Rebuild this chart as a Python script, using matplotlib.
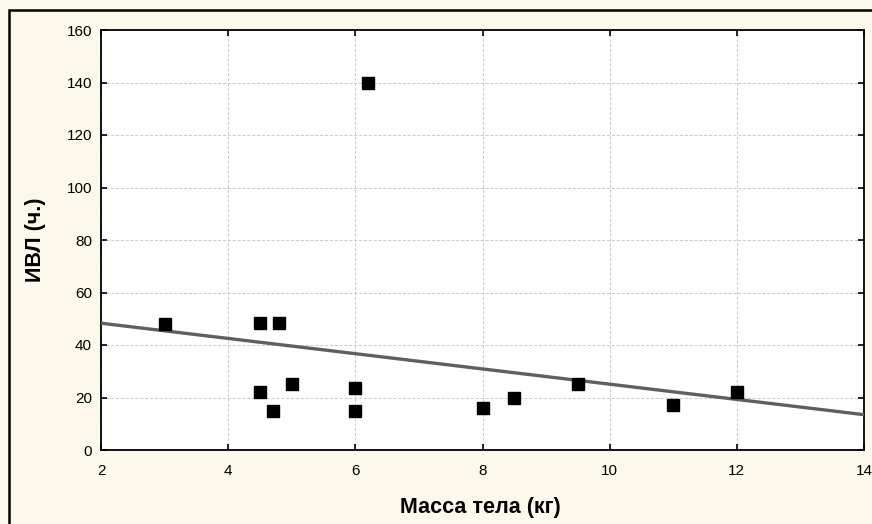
import numpy as np
import matplotlib
matplotlib.use('Agg')
from matplotlib import pyplot as plt
from matplotlib.patches import Rectangle

# масса тела (кг) и длительность ИВЛ (ч.)
mass = [3, 4.5, 4.8, 4.5, 4.7, 5.0, 6, 6, 6.2, 8, 8.5, 9.5, 11, 12]
ivl = [48, 48.5, 48.5, 22, 15, 25, 23.5, 15, 140, 16, 20, 25, 17, 22]
x_ticks = [2, 4, 6, 8, 10, 12, 14]
y_ticks = [0, 20, 40, 60, 80, 100, 120, 140, 160]

plt.rcParams['font.family'] = ['Liberation Sans', 'DejaVu Sans']

fig = plt.figure(figsize=(8.72, 5.24), dpi=100)
fig.patch.set_facecolor('#fdf8ec')
W, H = 872, 524
ax = fig.add_axes([101 / W, 1 - 450 / H, (864 - 101) / W, (450 - 30) / H])
ax.set_facecolor('white')

# линейная регрессия
k, b = np.polyfit(mass, ivl, 1)
xs = np.array([2, 14])
ax.plot(xs, k * xs + b, color='#5f5f5f', lw=2.4, zorder=3, solid_capstyle='butt')
ax.plot(mass, ivl, 's', color='black', markersize=9.2, zorder=4)

ax.set_xlim(2, 14)
ax.set_ylim(0, 160)
ax.set_xticks(x_ticks)
ax.set_yticks(y_ticks)
ax.grid(True, linestyle=(0, (3, 2)), color='#c8c8c8', lw=0.7)
ax.tick_params(direction='in', top=True, right=True, length=4, width=1.2,
               labelsize=11, colors='black')
ax.tick_params(axis='x', pad=10)
ax.tick_params(axis='y', pad=6.5)
for s in ax.spines.values():
    s.set_linewidth(1.3)
    s.set_color('black')

ax.set_xlabel('Масса тела (кг)', fontsize=15.5, fontweight='bold', va='center')
ax.set_ylabel('ИВЛ (ч.)', fontsize=15.5, fontweight='bold', va='center')
ax.xaxis.set_label_coords((480 - 101) / 763, (450 - 508) / 420)
ax.yaxis.set_label_coords((35 - 101) / 763, 0.5)

# рамка рисунка
fig.patches.append(Rectangle((9 / W, -0.05), 1.1, 1 - 10 / H + 0.05,
                             transform=fig.transFigure, fill=False,
                             edgecolor='black', lw=1.8))

fig.savefig('out.png', dpi=100, facecolor=fig.get_facecolor())
